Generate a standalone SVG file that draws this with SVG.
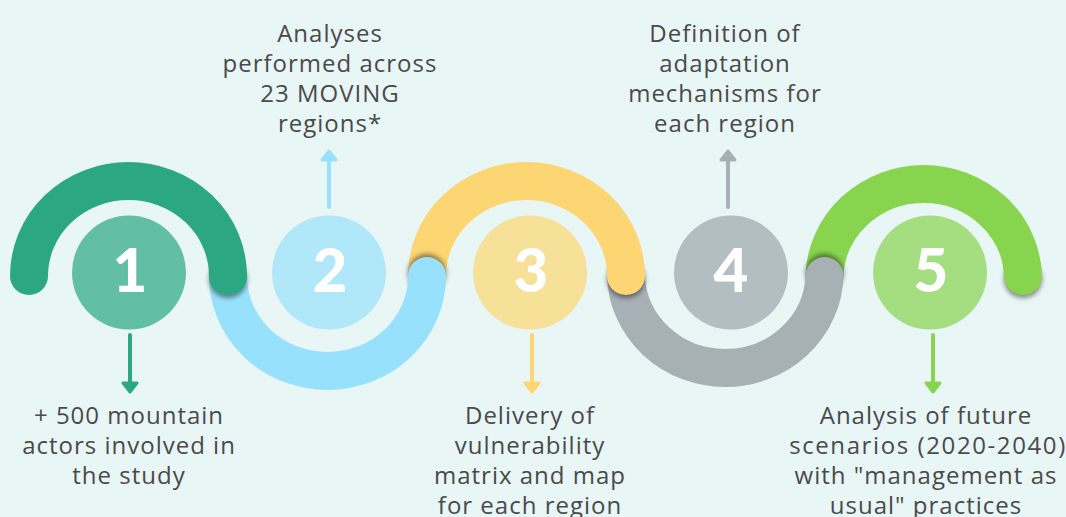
<svg xmlns="http://www.w3.org/2000/svg" width="1066" height="517" viewBox="0 0 1066 517">
<defs>
<filter id="sh" x="-50%" y="-50%" width="200%" height="200%"><feGaussianBlur stdDeviation="2.5"/></filter>
<style>
.arc{fill:none;stroke-width:38;stroke-linecap:round}
.shd{fill:#000;opacity:0.45;filter:url(#sh)}
.num{font-family:Lato,"Open Sans",sans-serif;font-weight:900;font-size:60px;fill:#fff;text-anchor:middle}
.lbl{font-family:"Open Sans","Liberation Sans",sans-serif;font-size:24px;fill:#4a4a4a;text-anchor:middle;letter-spacing:1px}
.wide{letter-spacing:1.6px}
.ln{fill:none;stroke-width:4;stroke-linecap:round}
.hd{stroke-width:3;stroke-linejoin:round}
</style>
</defs>
<rect width="1066" height="517" fill="#E8F6F5"/>
<g id="wave">
<circle class="shd" cx="1023" cy="279" r="19"/>
<path class="arc" stroke="#88D44F" d="M824.5 276 A99.3 95 0 0 1 1023 276"/>
<circle class="shd" cx="824.5" cy="273" r="19"/>
<path class="arc" stroke="#A6B0B5" d="M626 276 A99.3 95 0 0 0 824.5 276"/>
<circle class="shd" cx="626" cy="279" r="19"/>
<path class="arc" stroke="#FDD674" d="M427 276 A99.5 95 0 0 1 626 276"/>
<circle class="shd" cx="427" cy="273" r="19"/>
<path class="arc" stroke="#98E1FC" d="M228 276 A99.5 95 0 0 0 427 276"/>
<circle class="shd" cx="228" cy="279" r="19"/>
<path class="arc" stroke="#2BA882" d="M29 276 A99.5 95 0 0 1 228 276"/>
</g>
<g id="connectors">
<path class="ln" stroke="#2BA882" d="M130 335 V383"/>
<polygon class="hd" fill="#2BA882" stroke="#2BA882" points="123,383 137,383 130,392"/>
<path class="ln" stroke="#98E1FC" d="M329 207 V160"/>
<polygon class="hd" fill="#98E1FC" stroke="#98E1FC" points="322,160 336,160 329,151"/>
<path class="ln" stroke="#FDD674" d="M532 335 V383"/>
<polygon class="hd" fill="#FDD674" stroke="#FDD674" points="525,383 539,383 532,392"/>
<path class="ln" stroke="#A6B0B5" d="M728 207 V160"/>
<polygon class="hd" fill="#A6B0B5" stroke="#A6B0B5" points="721,160 735,160 728,151"/>
<path class="ln" stroke="#88D44F" d="M933 335 V383"/>
<polygon class="hd" fill="#88D44F" stroke="#88D44F" points="926,383 940,383 933,392"/>
</g>
<g id="step1">
<circle cx="129" cy="272.5" r="57" fill="#62BFA5"/>
<text class="num" x="130" y="292">1</text>
<text class="lbl" x="129" y="424">+ 500 mountain</text>
<text class="lbl" x="129" y="454">actors involved in</text>
<text class="lbl" x="129" y="484">the study</text>
</g>
<g id="step2">
<circle cx="329" cy="272.5" r="57" fill="#B0E8FA"/>
<text class="num" x="330" y="292">2</text>
<text class="lbl" x="330" y="42">Analyses</text>
<text class="lbl" x="330" y="72">performed across</text>
<text class="lbl" x="330" y="102">23 MOVING</text>
<text class="lbl" x="330" y="132">regions*</text>
</g>
<g id="step3">
<circle cx="530" cy="272.5" r="57" fill="#F7E097"/>
<text class="num" x="531" y="292">3</text>
<text class="lbl" x="530" y="424">Delivery of</text>
<text class="lbl" x="530" y="454">vulnerability</text>
<text class="lbl" x="530" y="484">matrix and map</text>
<text class="lbl" x="530" y="514">for each region</text>
</g>
<g id="step4">
<circle cx="731" cy="272.5" r="57" fill="#B3BEC3"/>
<text class="num" x="731" y="292">4</text>
<text class="lbl" x="725" y="42">Definition of</text>
<text class="lbl" x="725" y="72">adaptation</text>
<text class="lbl" x="725" y="102">mechanisms for</text>
<text class="lbl" x="725" y="132">each region</text>
</g>
<g id="step5">
<circle cx="930" cy="272.5" r="57" fill="#A4DE80"/>
<text class="num" x="931" y="292">5</text>
<text class="lbl" x="926" y="424">Analysis of future</text>
<text class="lbl wide" x="928" y="454">scenarios (2020-2040)</text>
<text class="lbl" x="926" y="484">with "management as</text>
<text class="lbl" x="926" y="514">usual" practices</text>
</g>
</svg>
